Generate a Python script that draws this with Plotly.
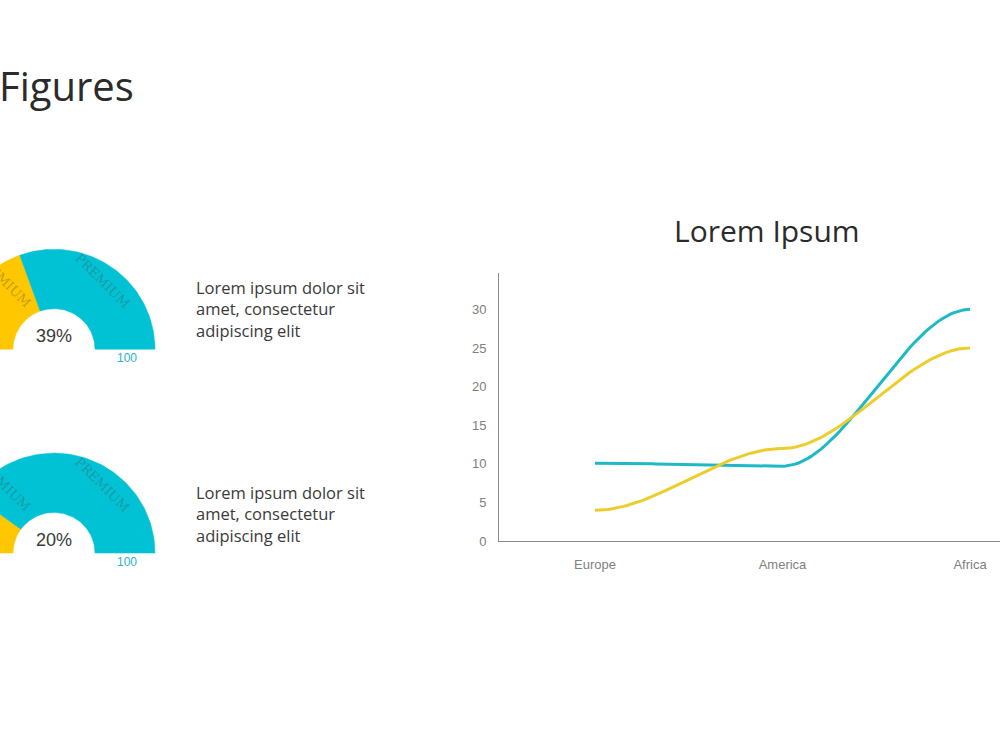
import numpy as np
import plotly.graph_objects as go

# ---------------- data ----------------
categories = ["Europe", "America", "Africa"]
series_teal = [10.1, 9.7, 30.0]
series_yellow = [4.0, 12.0, 25.0]
gauge_values = [39, 20]
gauge_labels = ["39%", "20%"]
gauge_max_label = "100"
y_ticks = [0, 5, 10, 15, 20, 25, 30]
body_lines = ["Lorem ipsum dolor sit", "amet, consectetur", "adipiscing elit"]

TEAL_G = "#00C2D4"
YELLOW_G = "#FFC700"
TEAL_L = "#1DB9C6"
YELLOW_L = "#EDCD2C"

fig = go.Figure()


# ---------------- line chart (smoothed path with flat tangents at each data point) ----------------
def smooth_path(ys, n=60):
    xs_out, ys_out = [], []
    for i in range(len(ys) - 1):
        t = np.linspace(0, 1, n)
        s = 3 * t ** 2 - 2 * t ** 3
        xs_out.append(i + t)
        ys_out.append(ys[i] + (ys[i + 1] - ys[i]) * s)
    return np.concatenate(xs_out), np.concatenate(ys_out)


for ser, col in [(series_teal, TEAL_L), (series_yellow, YELLOW_L)]:
    px, py = smooth_path(ser)
    fig.add_trace(go.Scatter(x=px, y=py, mode="lines",
                             line=dict(color=col, width=3),
                             xaxis="x", yaxis="y", showlegend=False, hoverinfo="skip"))

# ---------------- gauges (pixel-like axis x2/y2) ----------------
centers = [(54, 750 - 353), (54, 750 - 559)]
r_in, r_out = 41, 101


def sector(a0, a1, n=80):
    t = np.radians(np.linspace(a0, a1, n))
    xo = r_out * np.cos(t)
    yo = r_out * np.sin(t)
    xi = r_in * np.cos(t[::-1])
    yi = r_in * np.sin(t[::-1])
    return np.concatenate([xo, xi, xo[:1]]), np.concatenate([yo, yi, yo[:1]])


for (cx, cy), v in zip(centers, gauge_values):
    b = 180 - 1.8 * v
    for a0, a1, col in [(180, b, YELLOW_G), (b, 0, TEAL_G)]:
        xs, ys = sector(a0, a1)
        fig.add_trace(go.Scatter(x=xs + cx, y=ys + cy, mode="lines", fill="toself",
                                 fillcolor=col, line=dict(color=col, width=0.5),
                                 xaxis="x2", yaxis="y2", showlegend=False, hoverinfo="skip"))

annotations = []
for (cx, cy), lab in zip(centers, gauge_labels):
    annotations.append(dict(x=cx, y=cy + 13, xref="x2", yref="y2", text=lab, showarrow=False,
                            font=dict(family="Liberation Sans, Arial", size=18, color="#3a3a3a")))
    annotations.append(dict(x=cx + (r_in + r_out) / 2 + 2, y=cy - 9, xref="x2", yref="y2",
                            text=gauge_max_label, showarrow=False,
                            font=dict(family="Liberation Sans, Arial", size=12, color="#2AB4C6")))
    for dx, dy in [(48, 69), (-51, 70)]:
        annotations.append(dict(x=cx + dx, y=cy + dy, xref="x2", yref="y2", text="PREMIUM",
                                showarrow=False, textangle=45,
                                font=dict(family="DejaVu Serif, Liberation Serif", size=13,
                                          color="rgba(70,70,70,0.35)")))

# body texts
for ytop in [277, 484]:
    annotations.append(dict(x=194, y=750 - ytop, xref="x2", yref="y2",
                            text="<br>".join(body_lines), showarrow=False,
                            xanchor="left", yanchor="top", align="left",
                            font=dict(family="Open Sans, Noto Sans", size=16.5, color="#3a3a3a")))

# titles
annotations.append(dict(x=0, y=1 - 86 / 750, xref="paper", yref="paper", xshift=-3,
                        text="Figures", showarrow=False,
                        xanchor="left", yanchor="middle",
                        font=dict(family="Open Sans, Noto Sans", size=40, color="#2b2b2b")))
annotations.append(dict(x=767, y=750 - 233, xref="x2", yref="y2", text="Lorem Ipsum",
                        showarrow=False, xanchor="center", yanchor="middle",
                        font=dict(family="Open Sans, Noto Sans", size=30, color="#2b2b2b")))

fig.update_layout(
    width=1000, height=750,
    margin=dict(l=0, r=0, t=0, b=0),
    paper_bgcolor="white", plot_bgcolor="rgba(0,0,0,0)",
    showlegend=False,
    annotations=annotations,
    xaxis=dict(domain=[0.499, 1.0], range=[-0.512, 2.16], tickmode="array",
               tickvals=list(range(len(categories))), ticktext=categories,
               showgrid=False, zeroline=False,
               showline=True, linecolor="#8a8a8a", linewidth=1, ticks="",
               ticklabelstandoff=11,
               tickfont=dict(family="Liberation Sans, Arial", size=13, color="#808080")),
    yaxis=dict(domain=[(750 - 547) / 750, (750 - 276) / 750], range=[0, 34.7],
               tickmode="array", tickvals=y_ticks, showgrid=False, zeroline=False,
               showline=True, linecolor="#8a8a8a", linewidth=1, ticks="",
               ticklabelstandoff=9,
               tickfont=dict(family="Liberation Sans, Arial", size=13, color="#808080")),
    xaxis2=dict(domain=[0, 1], range=[0, 1000], visible=False, fixedrange=True),
    yaxis2=dict(domain=[0, 1], range=[0, 750], visible=False, fixedrange=True),
)

fig.write_html("out.html")
